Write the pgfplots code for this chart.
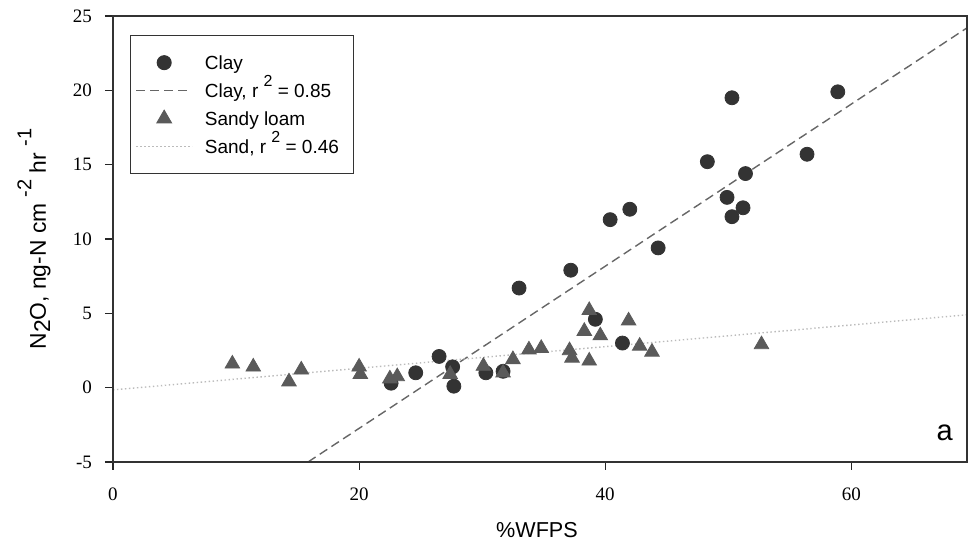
\documentclass[border=0pt]{standalone}
\usepackage{fontspec}
\setmainfont{Liberation Sans}
\newfontfamily\serifnum{Liberation Serif}
\usepackage{pgfplots}
\pgfplotsset{compat=1.18}
\usetikzlibrary{calc}
\definecolor{claycol}{HTML}{333333}
\definecolor{sandcol}{HTML}{5A5A5A}
\definecolor{claylinecol}{HTML}{666666}
\definecolor{sandlinecol}{HTML}{BBBBBB}
\pgfplotsset{
  markleg/.style={legend image code/.code={\draw[mark repeat=2,mark phase=2,##1] plot coordinates {(0pt,0pt) (14pt,0pt) (28pt,0pt)}; \path (34pt,0pt);}},
  lineleg/.style={legend image code/.code={\draw[##1] (0pt,0pt) -- (28pt,0pt); \path (34pt,0pt);}},
}
\begin{document}
\begin{tikzpicture}
\begin{axis}[
  set layers,
  scale only axis, width=427pt, height=223pt,
  xmin=0, xmax=69.4, ymin=-5, ymax=25,
  xtick={0,20,40,60}, ytick={-5,0,5,10,15,20,25},
  tick align=outside, xtick pos=bottom, ytick pos=left,
  major tick length=4pt,
  tick style={black!85, line width=0.6pt},
  axis line style={black!80, line width=0.6pt},
  /pgf/number format/assume math mode=true,
  ticklabel style={font=\serifnum\fontsize{9.5}{10}\selectfont},
  xticklabel style={yshift=-5.5pt},
  yticklabel style={xshift=-3pt},
  xlabel={\%WFPS},
  ylabel={N\raisebox{-0.35ex}{2}O, ng-N cm \raisebox{1.2ex}{\fontsize{10}{11}\selectfont -2} hr \raisebox{1.2ex}{\fontsize{10}{11}\selectfont -1}},
  xlabel style={font=\fontsize{10.8}{12}\selectfont, at={($(rel axis cs:0.5,0)+(-1.5pt,-34pt)$)}, anchor=center},
  ylabel style={font=\fontsize{11.4}{13}\selectfont, at={($(rel axis cs:0,0.5)+(-39.5pt,0pt)$)}, anchor=center},
  legend cell align=left,
  legend style={at={(rel axis cs:0.0199,0.957)}, anchor=north west,
    draw=black!80, line width=0.5pt, fill=white,
    inner xsep=2.5pt, inner ysep=6.5pt,
    font=\fontsize{9.5}{11}\selectfont,
    nodes={inner sep=0pt, text height=10.5pt, text depth=3.5pt}},
]
\addplot[only marks, mark=*, mark size=3.5pt, color=claycol, fill=claycol, markleg]
coordinates {
(48.3,15.2) (51.4,14.4) (49.9,12.8) (51.2,12.1) (50.3,11.5)
(42.0,12.0) (40.4,11.3) (44.3,9.4) (37.2,7.9) (33.0,6.7)
(39.2,4.6) (41.4,3.0) (26.5,2.1) (27.6,1.4) (27.7,0.1)
(24.6,1.0) (22.6,0.3) (30.3,1.0) (31.7,1.1) (50.3,19.5)
(58.9,19.9) (56.4,15.7)
};
\addlegendentry{Clay}
\addplot[claylinecol, line width=0.7pt, dash pattern=on 4.5pt off 2.5pt, on layer=axis background, lineleg]
coordinates {(15.85,-5) (69.4,24.2)};
\addlegendentry{Clay, r \raisebox{1.1ex}{\fontsize{8}{9}\selectfont 2} = 0.85}
\addplot[only marks, mark=triangle*, mark size=4.2pt, color=sandcol, fill=sandcol, markleg]
coordinates {
(9.7,1.6) (11.4,1.4) (14.3,0.4) (15.3,1.2) (20.0,1.4) (20.1,0.9)
(22.5,0.6) (23.1,0.75) (27.4,0.9) (30.1,1.45) (31.7,1.0) (32.5,1.9)
(33.8,2.55) (34.8,2.65) (37.1,2.5) (37.3,2.0) (38.7,1.8) (38.7,5.2)
(38.3,3.8) (39.6,3.5) (41.9,4.5) (42.8,2.8) (43.8,2.4) (52.7,2.9)
};
\addlegendentry{Sandy loam}
\addplot[sandlinecol, line width=0.7pt, dash pattern=on 0.7pt off 1.3pt, on layer=axis background, lineleg]
coordinates {(0,-0.15) (69.4,4.9)};
\addlegendentry{Sand, r \raisebox{1.1ex}{\fontsize{8}{9}\selectfont 2} = 0.46\hspace*{5pt}}
\node[font=\fontsize{14.5}{16}\selectfont] at (rel axis cs:0.974,0.065) {a};
\end{axis}
\pgfresetboundingbox
\path ($(current axis.south west)+(-56.5pt,-42pt)$) rectangle ($(current axis.north east)+(0.5pt,8pt)$);
\end{tikzpicture}
\end{document}
